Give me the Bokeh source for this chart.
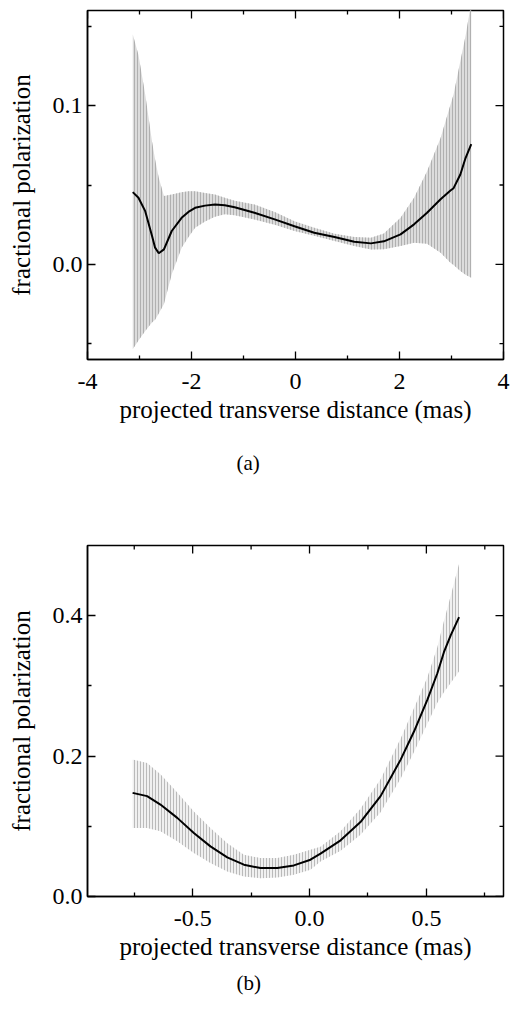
import math
from bokeh.plotting import figure
from bokeh.layouts import column
from bokeh.models import FixedTicker, PrintfTickFormatter, Range1d, Title
from bokeh.embed import file_html
from bokeh.resources import INLINE

# ---------------- panel (a) data ----------------
xa = [-3.13, -3.02, -2.89, -2.76, -2.70, -2.63, -2.53, -2.38, -2.19, -2.06, -1.93, -1.74,
      -1.55, -1.36, -1.17, -0.79, -0.40, -0.02, 0.36, 0.75, 1.13, 1.45, 1.70, 2.02,
      2.28, 2.53, 2.79, 2.98, 3.04, 3.17, 3.27, 3.38]
pa = [0.0455, 0.042, 0.0335, 0.018, 0.0105, 0.007, 0.0094, 0.021, 0.0293, 0.033, 0.0356, 0.037,
      0.0377, 0.0373, 0.036, 0.0325, 0.0283, 0.024, 0.0199, 0.0172, 0.0142, 0.0132, 0.0145, 0.0189,
      0.0252, 0.0325, 0.041, 0.0465, 0.048, 0.0566, 0.067, 0.0758]
hia = [0.145, 0.132, 0.107, 0.0776, 0.066, 0.0545, 0.043, 0.044, 0.0455, 0.046, 0.046, 0.045,
       0.044, 0.042, 0.040, 0.0377, 0.033, 0.0272, 0.023, 0.0192, 0.0172, 0.0167, 0.0195, 0.0293,
       0.042, 0.0587, 0.0796, 0.1006, 0.107, 0.128, 0.144, 0.165]
loa = [-0.0535, -0.048, -0.042, -0.0367, -0.035, -0.031, -0.025, -0.0063, 0.0104, 0.017, 0.023, 0.027,
       0.030, 0.0315, 0.031, 0.0283, 0.025, 0.021, 0.018, 0.0147, 0.0115, 0.0094, 0.0095, 0.0115,
       0.0136, 0.013, 0.0073, 0.001, -0.0005, -0.0042, -0.0065, -0.0084]
xa_major = [-4, -2, 0, 2, 4]
xa_minor = [-3, -1, 1, 3]
ya_major = [0.0, 0.1]
ya_minor = [-0.05, 0.05, 0.15]

# ---------------- panel (b) data ----------------
xb = [-0.757, -0.695, -0.638, -0.566, -0.495, -0.424, -0.352, -0.281, -0.210, -0.138, -0.067, 0.004,
      0.047, 0.133, 0.218, 0.304, 0.390, 0.447, 0.504, 0.547, 0.575, 0.604, 0.640]
pb = [0.1476, 0.143, 0.131, 0.112, 0.0904, 0.0714, 0.0557, 0.0453, 0.0405, 0.0405, 0.0443, 0.0524,
      0.061, 0.080, 0.106, 0.143, 0.195, 0.235, 0.280, 0.318, 0.348, 0.372, 0.398]
hib = [0.195, 0.190, 0.174, 0.148, 0.121, 0.0976, 0.076, 0.0595, 0.0547, 0.0547, 0.0595, 0.0667,
       0.071, 0.093, 0.125, 0.167, 0.225, 0.268, 0.312, 0.355, 0.392, 0.428, 0.474]
lob = [0.0976, 0.0976, 0.093, 0.0786, 0.062, 0.0476, 0.0357, 0.0286, 0.026, 0.027, 0.031, 0.038,
       0.050, 0.065, 0.088, 0.120, 0.168, 0.206, 0.246, 0.276, 0.291, 0.304, 0.321]
xb_major = [-0.5, 0.0, 0.5]
xb_minor = [-0.75, -0.25, 0.25, 0.75]
yb_major = [0.0, 0.2, 0.4]
yb_minor = [0.1, 0.3]

XLABEL = "projected transverse distance (mas)"
YLABEL = "fractional polarization"
FONT = "'Liberation Serif', 'Times New Roman', serif"

MAJ_LEN = 8
MIN_LEN = 4


def style_axis(ax, major, minor, fmt):
    ax.ticker = FixedTicker(ticks=major, minor_ticks=minor)
    ax.formatter = PrintfTickFormatter(format=fmt)
    ax.major_tick_in = MAJ_LEN
    ax.major_tick_out = 0
    ax.minor_tick_in = MIN_LEN
    ax.minor_tick_out = 0
    ax.axis_line_color = "black"
    ax.axis_line_width = 1.5
    ax.major_tick_line_color = "black"
    ax.major_tick_line_width = 1.3
    ax.minor_tick_line_color = "black"
    ax.minor_tick_line_width = 1.3
    ax.major_label_text_font = FONT
    ax.major_label_text_color = "black"
    ax.major_label_text_font_size = "24px"
    ax.axis_label_text_font = FONT
    ax.axis_label_text_font_style = "normal"
    ax.axis_label_text_color = "black"
    ax.axis_label_text_font_size = "25px"


def mirror_ticks(f, xr, yr, xmaj, xmin, ymaj, ymin):
    # inward ticks on the top and right frame edges
    f.ray(x=xmaj, y=[yr[1]] * len(xmaj), length=MAJ_LEN, length_units="screen",
          angle=-math.pi / 2, line_color="black", line_width=1.3)
    f.ray(x=xmin, y=[yr[1]] * len(xmin), length=MIN_LEN, length_units="screen",
          angle=-math.pi / 2, line_color="black", line_width=1.3)
    f.ray(x=[xr[1]] * len(ymaj), y=ymaj, length=MAJ_LEN, length_units="screen",
          angle=math.pi, line_color="black", line_width=1.3)
    f.ray(x=[xr[1]] * len(ymin), y=ymin, length=MIN_LEN, length_units="screen",
          angle=math.pi, line_color="black", line_width=1.3)


def make_panel(x, p_, lo, hi, xr, yr, xmaj, xmin, ymaj, ymin, xfmt, yfmt, caption,
               height, btop, bbottom, bright, fill, hatch, cap_standoff):
    f = figure(width=512, height=height, x_range=Range1d(*xr), y_range=Range1d(*yr),
               output_backend="svg", toolbar_location=None,
               min_border_left=87, min_border_right=bright,
               min_border_top=btop, min_border_bottom=bbottom)
    f.xgrid.visible = False
    f.ygrid.visible = False
    f.outline_line_color = "black"
    f.outline_line_width = 1.5
    f.background_fill_color = "white"
    f.border_fill_color = "white"

    f.varea(x=x, y1=lo, y2=hi, fill_color=fill, hatch_pattern="vertical_line",
            hatch_color=hatch, hatch_scale=3, hatch_weight=1)
    f.line(x, p_, line_color="black", line_width=2)
    mirror_ticks(f, xr, yr, xmaj, xmin, ymaj, ymin)

    xax = f.xaxis[0]
    style_axis(xax, xmaj, xmin, xfmt)
    xax.axis_label = XLABEL
    xax.major_label_standoff = 14
    xax.axis_label_standoff = 4

    yax = f.yaxis[0]
    style_axis(yax, ymaj, ymin, yfmt)
    yax.axis_label = YLABEL
    yax.major_label_standoff = 5
    yax.axis_label_standoff = 15

    cap = Title(text=caption, align="left", offset=149, text_font=FONT,
                text_font_size="21px", text_font_style="normal", text_color="black",
                standoff=cap_standoff)
    f.add_layout(cap, "below")
    return f


pa_fig = make_panel(xa, pa, loa, hia, (-4, 4), (-0.06, 0.16), xa_major, xa_minor,
                    ya_major, ya_minor, "%d", "%.1f", "(a)", 505, 10, 146, 7,
                    "#dcdcdc", "#b0b0b0", 46)
pb_fig = make_panel(xb, pb, lob, hib, (-0.95, 0.83), (0.0, 0.5), xb_major, xb_minor,
                    yb_major, yb_minor, "%.1f", "%.1f", "(b)", 506, 40, 115, 9,
                    "#f0f0f0", "#bababa", 12)

layout = column(pa_fig, pb_fig, spacing=0)
open("out.html", "w").write(file_html(layout, INLINE))
